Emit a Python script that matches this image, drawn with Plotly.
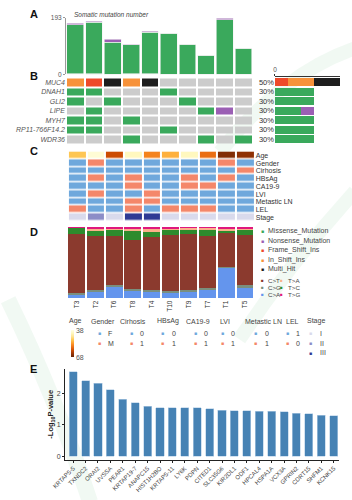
import plotly.graph_objects as go

W, H = 352, 500
FONT = "Liberation Sans, Arial, Helvetica, sans-serif"


def fx(p):
    return p / W


def fy(p):
    return 1 - p / H


# ---------------- data ----------------
samples = ["T3", "T2", "T6", "T8", "T4", "T10", "T9", "T7", "T1", "T5"]

# Panel A: somatic mutation number per sample
tmb_missense = [168, 176, 110, 100, 141, 140, 103, 65, 186, 89]
tmb_nonsense = [4, 3, 10, 1, 4, 0, 0, 1, 5, 1]
tmb_frameshift = [0, 2, 0, 0, 0, 0, 0, 0, 0, 0]
tmb_inshift = [2, 0, 0, 2, 2, 0, 0, 0, 0, 0]
tmb_max = 193

# Panel B: oncoplot
genes = ["MUC4", "DNAH1", "GLI2", "LIPE", "MYH7", "RP11-766F14.2", "WDR36"]
MS, NS, FS, IS, MH, NO = ("Missense_Mutation", "Nonsense_Mutation",
                          "Frame_Shift_Ins", "In_Shift_Ins", "Multi_Hit", "")
mut_muc4 = [IS, FS, MH, IS, MH, NO, NO, NO, NO, NO]
mut_dnah1 = [MS, MS, NO, NO, NO, MS, NO, NO, NO, NO]
mut_gli2 = [MS, NO, MS, NO, NO, NO, MS, NO, NO, NO]
mut_lipe = [NO, MS, NO, NO, NO, NO, NO, MS, NS, NO]
mut_myh7 = [MS, MS, NO, MS, NO, NO, NO, NO, NO, NO]
mut_rp11 = [MS, MS, NO, NO, NO, MS, NO, NO, NO, NO]
mut_wdr36 = [NO, NO, NO, MS, NO, NO, NO, MS, NO, MS]
mutation_rows = [mut_muc4, mut_dnah1, mut_gli2, mut_lipe, mut_myh7, mut_rp11, mut_wdr36]

mut_types = [MS, NS, FS, IS, MH]
mut_colors = {NO: "#CCCCCC", MS: "#3AA95C", NS: "#9B5FB4", FS: "#EE4A2A",
              IS: "#F7923A", MH: "#1E1E1E"}

# Panel C: clinical annotation
clin_rows = ["Age", "Gender", "Cirhosis", "HBsAg", "CA19-9", "LVI",
             "Metastic LN", "LEL", "Stage"]
age = [49, 39.5, 60.5, 41.5, 55, 51, 41.5, 57, 66, 65]
gender = ["F", "M", "F", "F", "F", "F", "F", "F", "M", "F"]
cirrhosis = [0, 0, 0, 0, 0, 0, 0, 0, 0, 1]
hbsag = [0, 1, 0, 1, 0, 0, 1, 0, 1, 0]
ca199 = [0, 0, 0, 1, 0, 0, 1, 1, 0, 0]
lvi = [0, 1, 0, 0, 1, 0, 0, 0, 0, 0]
metastic_ln = [0, 0, 0, 1, 1, 0, 0, 0, 0, 0]
lel = [0, 1, 1, 0, 1, 0, 0, 0, 1, 1]
stage = ["I", "II", "I", "III", "III", "I", "I", "I", "I", "I"]
age_min, age_max = 38, 68

# Panel D: mutation spectrum (% of SNVs)
spec_names = ["C>A", "C>G", "C>T", "T>C", "T>A", "T>G"]
spec_ca = [5.5, 9.2, 17.0, 10.0, 8.8, 8.3, 10.0, 12.9, 43.0, 14.7]
spec_cg = [1.4, 2.3, 2.3, 2.8, 2.8, 2.3, 1.4, 1.8, 1.0, 3.7]
spec_ct = [82.9, 76.0, 68.3, 69.0, 74.5, 77.6, 78.0, 73.0, 47.6, 70.5]
spec_tc = [9.7, 7.4, 7.8, 13.0, 7.0, 8.8, 6.4, 7.8, 4.1, 6.9]
spec_ta = [0.0, 1.4, 2.8, 3.2, 4.6, 1.0, 3.2, 3.7, 2.3, 1.8]
spec_tg = [0.5, 3.7, 1.8, 2.0, 2.3, 2.0, 1.0, 0.8, 2.0, 2.4]
spec_colors = {"C>A": "#6495ED", "C>G": "#7A8F7E", "C>T": "#8B3A2E",
               "T>C": "#2D8B2D", "T>A": "#F9B189", "T>G": "#E0187C"}

# Panel E: enrichment
e_genes = ["KRTAP5-5", "TXNDC2", "ORAI2", "UVSSA", "PEAR1", "KRTAP19-7",
           "ANAPC15", "HIST1H2BO", "KRTAP5-11", "LY6K", "PDPN", "CITED1",
           "SLC35G6", "KIR2DL1", "ODF1", "HPCAL4", "HSPA1A", "VCX3A",
           "GPRIN2", "CDRT15", "SHFM1", "KCNK15"]
e_logp = [2.68, 2.40, 2.31, 2.11, 1.80, 1.70, 1.59, 1.53, 1.53, 1.53, 1.53,
          1.51, 1.46, 1.45, 1.45, 1.42, 1.42, 1.41, 1.37, 1.34, 1.30, 1.29]

# ---------------- figure ----------------
fig = go.Figure()

# A: stacked bars
for vals, key in [(tmb_inshift, IS), (tmb_frameshift, FS),
                  (tmb_missense, MS), (tmb_nonsense, NS)]:
    fig.add_trace(go.Bar(x=samples, y=vals, width=0.9,
                         marker=dict(color=mut_colors[key],
                                     line=dict(color="#F2F2F2", width=0.6)),
                         xaxis="x", yaxis="y", showlegend=False,
                         hoverinfo="skip"))


def discrete_scale(colors):
    n = len(colors)
    cs = []
    for i, c in enumerate(colors):
        cs.append([i / n, c])
        cs.append([(i + 1) / n, c])
    return cs


# B: oncoplot heatmap
b_order = [NO, MS, NS, FS, IS, MH]
b_code = {k: i for i, k in enumerate(b_order)}
z_b = [[b_code[v] for v in row] for row in mutation_rows]
fig.add_trace(go.Heatmap(x=samples, y=genes, z=z_b,
                         colorscale=discrete_scale([mut_colors[k] for k in b_order]),
                         zmin=-0.5, zmax=len(b_order) - 0.5, showscale=False,
                         xgap=2, ygap=2, xaxis="x2", yaxis="y2",
                         hoverinfo="skip"))

# B: right side counts
for key in [FS, IS, MH, MS, NS]:
    counts = [row.count(key) for row in mutation_rows]
    fig.add_trace(go.Bar(y=genes, x=counts, orientation="h", width=0.8,
                         marker=dict(color=mut_colors[key], line=dict(width=0)),
                         xaxis="x3", yaxis="y3", showlegend=False,
                         hoverinfo="skip"))
pct_labels = ["%d%%" % round(100 * sum(1 for v in row if v) / len(samples))
              for row in mutation_rows]

# C: clinical heatmap
clin_blue, clin_red = "#6FA8DC", "#F4876A"
stage_colors = {"I": "#D9DAEC", "II": "#8C8DC7", "III": "#2E3A94"}
stage_code = {"I": 2, "II": 3, "III": 4}
z_c = [
    [0 if g == "F" else 1 for g in gender],
    list(cirrhosis),
    list(hbsag),
    list(ca199),
    list(lvi),
    list(metastic_ln),
    [0 if v == 1 else 1 for v in lel],
    [stage_code[s] for s in stage],
]
fig.add_trace(go.Heatmap(x=samples, y=clin_rows[1:], z=z_c,
                         colorscale=discrete_scale([clin_blue, clin_red,
                                                    stage_colors["I"],
                                                    stage_colors["II"],
                                                    stage_colors["III"]]),
                         zmin=-0.5, zmax=4.5, showscale=False,
                         xgap=2, ygap=1.5, xaxis="x4", yaxis="y4",
                         hoverinfo="skip"))
age_scale = [[0.0, "#662506"], [0.125, "#993404"], [0.25, "#CC4C02"],
             [0.375, "#EC7014"], [0.5, "#FE9929"], [0.625, "#FEC44F"],
             [0.75, "#FEE391"], [0.875, "#FFF7BC"], [1.0, "#FFFFE5"]]
fig.add_trace(go.Heatmap(x=samples, y=["Age"], z=[[-a for a in age]],
                         colorscale=age_scale, zmin=-age_max, zmax=-age_min,
                         xgap=2, ygap=1.5, xaxis="x4", yaxis="y4",
                         hoverinfo="skip",
                         colorbar=dict(x=fx(60.5), xanchor="left",
                                       y=fy(331), yanchor="top",
                                       len=27, lenmode="pixels",
                                       thickness=3, thicknessmode="pixels",
                                       outlinewidth=0, xpad=0, ypad=0,
                                       tickvals=[-age_min, -age_max],
                                       ticktext=[str(age_min), str(age_max)],
                                       ticks="",
                                       tickfont=dict(size=7, color="#555",
                                                     family=FONT))))

# D: spectrum
spec_vals = {"C>A": spec_ca, "C>G": spec_cg, "C>T": spec_ct,
             "T>C": spec_tc, "T>A": spec_ta, "T>G": spec_tg}
for name in spec_names:
    fig.add_trace(go.Bar(x=samples, y=spec_vals[name], width=0.9,
                         marker=dict(color=spec_colors[name], line=dict(width=0)),
                         xaxis="x5", yaxis="y5", showlegend=False,
                         hoverinfo="skip"))

# E: bar chart
fig.add_trace(go.Bar(x=e_genes, y=e_logp, width=0.65,
                     marker=dict(color="#4682B4",
                                 line=dict(color="#B5CFE6", width=0.6)),
                     xaxis="x6", yaxis="y6", showlegend=False,
                     hoverinfo="skip"))

# ---------------- axes ----------------
cat = dict(type="category", categoryorder="array", categoryarray=samples,
           range=[-0.5, len(samples) - 0.5], fixedrange=True)
noaxis = dict(showgrid=False, zeroline=False, showline=False, ticks="",
              showticklabels=False)

fig.update_layout(
    width=W, height=H, margin=dict(l=0, r=0, t=0, b=0),
    paper_bgcolor="white", plot_bgcolor="rgba(0,0,0,0)",
    barmode="stack", showlegend=False,
    font=dict(family=FONT, size=7, color="#444"),
    xaxis=dict(domain=[fx(55), fx(249)], anchor="y", **cat, **noaxis),
    yaxis=dict(domain=[fy(71.5), fy(14)], anchor="x", range=[0, tmb_max],
               tickvals=[0, tmb_max], showgrid=False, zeroline=False,
               showline=True, linecolor="#9A9A9A", linewidth=1,
               ticks="outside", ticklen=2, tickcolor="#9A9A9A",
               tickfont=dict(size=6.5, color="#555")),
    xaxis2=dict(domain=[fx(55), fx(249)], anchor="y2", **cat, **noaxis),
    yaxis2=dict(domain=[fy(142), fy(74.5)], anchor="x2", type="category",
                categoryorder="array", categoryarray=genes, tickvals=genes,
                autorange="reversed", showgrid=False, zeroline=False,
                ticks="", tickfont=dict(size=7, color="#555", style="italic")),
    xaxis3=dict(domain=[fx(272), fx(340)], anchor="y3", side="top",
                range=[0, 5], tickvals=[0], showgrid=False, zeroline=False,
                showline=True, linecolor="#333", linewidth=1,
                ticks="outside", ticklen=2, tickcolor="#333",
                tickfont=dict(size=6.5, color="#555")),
    yaxis3=dict(domain=[fy(142), fy(74.5)], anchor="x3", type="category",
                categoryorder="array", categoryarray=genes,
                autorange="reversed", tickvals=genes, ticktext=pct_labels,
                showgrid=False, zeroline=False, showline=False, ticks="",
                tickfont=dict(size=7.5, color="#333")),
    xaxis4=dict(domain=[fx(57), fx(251)], anchor="y4", **cat, **noaxis),
    yaxis4=dict(domain=[fy(220.5), fy(149.5)], anchor="x4", type="category",
                categoryorder="array", categoryarray=clin_rows,
                tickvals=clin_rows,
                autorange="reversed", side="right", showgrid=False,
                zeroline=False, ticks="",
                tickfont=dict(size=7, color="#333")),
    xaxis5=dict(domain=[fx(56.5), fx(250.5)], anchor="y5", type="category",
                categoryorder="array", categoryarray=samples,
                tickvals=samples,
                range=[-0.5, len(samples) - 0.5], showgrid=False,
                zeroline=False, showline=False, ticks="", tickangle=-90,
                tickfont=dict(size=6.5, color="#333")),
    yaxis5=dict(domain=[fy(298.5), fy(226)], anchor="x5", range=[0, 100],
                **noaxis),
    xaxis6=dict(domain=[fx(54), fx(339)], anchor="y6", type="category",
                tickvals=e_genes,
                range=[-0.66, len(e_genes) - 1 + 0.47], showgrid=False,
                zeroline=False, showline=True, linecolor="#222", linewidth=1,
                ticks="outside", ticklen=2, tickcolor="#222", tickangle=-45,
                tickfont=dict(size=6, color="#444")),
    yaxis6=dict(domain=[fy(462), fy(370)], anchor="x6", range=[-0.103, 2.77],
                tickvals=[0, 1, 2], showgrid=False, zeroline=False,
                showline=True, linecolor="#222", linewidth=1,
                ticks="outside", ticklen=2, tickcolor="#222",
                tickfont=dict(size=7, color="#444")),
)

# faint background watermark swooshes
wm = "rgba(60,170,90,0.07)"
fig.update_layout(shapes=[
    dict(type="path", xref="paper", yref="paper", layer="below",
         path="M %f %f Q %f %f %f %f" % (fx(-5), fy(300), fx(45), fy(400),
                                         fx(80), fy(505)),
         line=dict(color=wm, width=16)),
    dict(type="path", xref="paper", yref="paper", layer="below",
         path="M %f %f Q %f %f %f %f" % (fx(215), fy(150), fx(280), fy(70),
                                         fx(355), fy(45)),
         line=dict(color=wm, width=14)),
    dict(type="path", xref="paper", yref="paper", layer="below",
         path="M %f %f Q %f %f %f %f" % (fx(355), fy(190), fx(290), fy(260),
                                         fx(235), fy(340)),
         line=dict(color=wm, width=14)),
])

# ---------------- annotations ----------------
ann = []


def text(x, y, s, size=7, color="#444", xanchor="left", **kw):
    ann.append(dict(x=fx(x), y=fy(y), xref="paper", yref="paper", text=s,
                    showarrow=False, xanchor=xanchor, yanchor="middle",
                    font=dict(size=size, color=color, family=FONT), **kw))


for letter, py in zip("ABCDE", [10.5, 73, 149, 231, 370.5]):
    text(21.5, py, "<b>%s</b>" % letter, size=11, color="#111", xanchor="center")

text(61, 11, "<i>Somatic mutation number</i>", size=6.5, color="#444")

# D legends
for key, py in zip(mut_types, [230.7, 240.2, 249.6, 259.2, 268.8]):
    text(258.7, py, "■", size=5, color=mut_colors[key], xanchor="center")
    text(263, py, key, size=7)
for names, mx, ys in [(["C>T", "C>G", "C>A"], 258.7, [280.5, 287.5, 294.5]),
                      (["T>A", "T>C", "T>G"], 279, [280.5, 287.5, 294.5])]:
    for name, py in zip(names, ys):
        text(mx, py, "■", size=4.5, color=spec_colors[name], xanchor="center")
        text(mx + 4, py, name, size=6.2)

# C legend (bottom)
text(64.5, 322, "Age", size=7, xanchor="center")
legend_groups = [
    ("Gender", ["F", "M"], [clin_blue, clin_red]),
    ("Cirhosis", ["0", "1"], [clin_blue, clin_red]),
    ("HBsAg", ["0", "1"], [clin_blue, clin_red]),
    ("CA19-9", ["0", "1"], [clin_blue, clin_red]),
    ("LVI", ["0", "1"], [clin_blue, clin_red]),
    ("Metastic LN", ["0", "1"], [clin_blue, clin_red]),
    ("LEL", ["1", "0"], [clin_blue, clin_red]),
    ("Stage", ["I", "II", "III"], [stage_colors["I"], stage_colors["II"],
                                   stage_colors["III"]]),
]
head_x = [93.3, 125, 161, 191.7, 219.7, 260, 290.3, 315]
key_x = [89.3, 123.3, 155.7, 189, 217.3, 252.3, 285, 309.3]
row_y = [334, 344, 353.5]
for (title, levels, cols), hx, kx in zip(legend_groups, head_x, key_x):
    text(hx, 322, title, size=7, xanchor="center")
    for lev, col, py in zip(levels, cols, row_y):
        text(kx, py, "■", size=5, color=col, xanchor="center")
        text(kx + 7, py, lev, size=7)

# E y title
text(40, 416, "<b>-Log<sub>10</sub>P-value</b>", size=7.5, color="#222",
     xanchor="center", textangle=-90)

fig.update_layout(annotations=ann)

fig.write_html("out.html")
